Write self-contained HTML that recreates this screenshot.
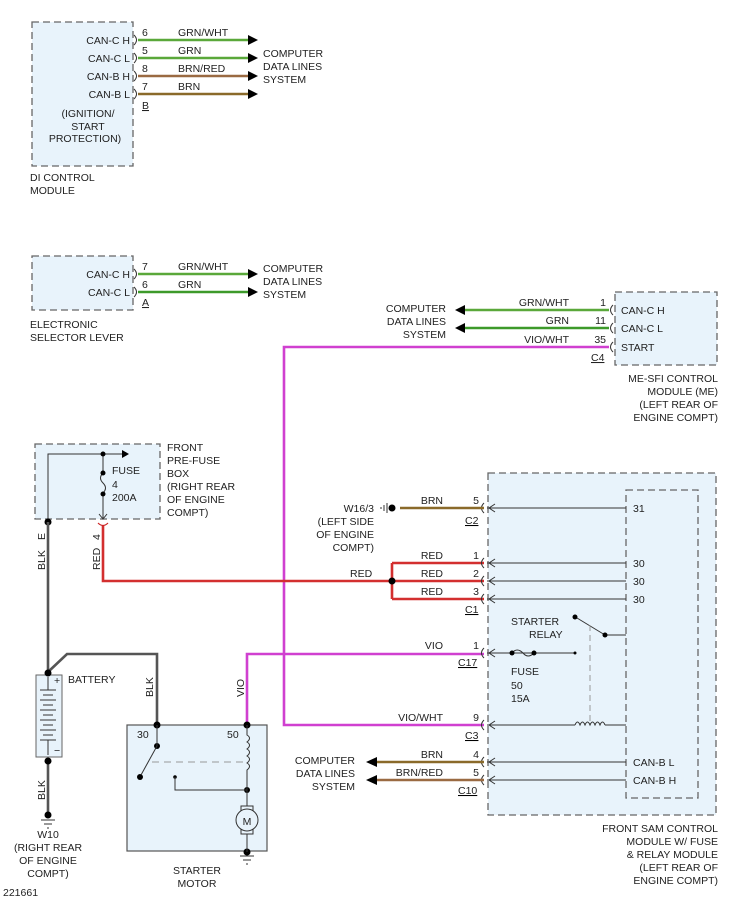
<!DOCTYPE html>
<html><head><meta charset="utf-8"><style>
html,body{margin:0;padding:0;background:#fff}
svg{display:block}
text{font-family:"Liberation Sans",sans-serif;font-size:10.5px;fill:#222}
.box{fill:#e8f3fb;stroke:#666;stroke-width:1.3;stroke-dasharray:7 4}
.w{fill:none;stroke-width:2.6}
.t{stroke:#333;stroke-width:1;fill:none}
</style></head><body>
<svg width="729" height="900" viewBox="0 0 729 900" xmlns="http://www.w3.org/2000/svg">
<defs>
<marker id="a" markerWidth="10" markerHeight="10" refX="9" refY="5" orient="auto" markerUnits="userSpaceOnUse"><path d="M0,0 L10,5 L0,10z" fill="#000"/></marker>
</defs>

<!-- DI control module -->
<rect class="box" x="32" y="22" width="101" height="144"/>
<g text-anchor="end">
<text x="130" y="44">CAN-C H</text><text x="130" y="62">CAN-C L</text>
<text x="130" y="80">CAN-B H</text><text x="130" y="98">CAN-B L</text>
</g>
<g text-anchor="middle"><text x="88" y="117">(IGNITION/</text><text x="88" y="130">START</text><text x="85" y="142">PROTECTION)</text></g>
<text x="30" y="181">DI CONTROL</text><text x="30" y="194">MODULE</text>
<g class="t"><path d="M134,35 q5,5 0,10"/><path d="M134,53 q5,5 0,10"/><path d="M134,71 q5,5 0,10"/><path d="M134,89 q5,5 0,10"/></g>
<line class="w" x1="138" y1="40" x2="255" y2="40" stroke="#5aa83a"/>
<line class="w" x1="138" y1="58" x2="255" y2="58" stroke="#5aa83a"/>
<line class="w" x1="138" y1="76" x2="255" y2="76" stroke="#9a6a42"/>
<line class="w" x1="138" y1="94" x2="255" y2="94" stroke="#8a6a2a"/>
<g fill="#000"><path d="M248,35 l10,5 l-10,5z"/><path d="M248,53 l10,5 l-10,5z"/><path d="M248,71 l10,5 l-10,5z"/><path d="M248,89 l10,5 l-10,5z"/></g>
<text x="142" y="36">6</text><text x="142" y="54">5</text><text x="142" y="72">8</text><text x="142" y="90">7</text>
<text x="142" y="109" text-decoration="underline">B</text>
<text x="178" y="36">GRN/WHT</text><text x="178" y="54">GRN</text><text x="178" y="72">BRN/RED</text><text x="178" y="90">BRN</text>
<text x="263" y="57">COMPUTER</text><text x="263" y="70">DATA LINES</text><text x="263" y="83">SYSTEM</text>

<!-- Selector lever -->
<rect class="box" x="32" y="256" width="101" height="54"/>
<g text-anchor="end"><text x="130" y="278">CAN-C H</text><text x="130" y="296">CAN-C L</text></g>
<text x="30" y="328">ELECTRONIC</text><text x="30" y="341">SELECTOR LEVER</text>
<g class="t"><path d="M134,269 q5,5 0,10"/><path d="M134,287 q5,5 0,10"/></g>
<line class="w" x1="138" y1="274" x2="255" y2="274" stroke="#5aa83a"/>
<line class="w" x1="138" y1="292" x2="255" y2="292" stroke="#3d9a2a"/>
<g fill="#000"><path d="M248,269 l10,5 l-10,5z"/><path d="M248,287 l10,5 l-10,5z"/></g>
<text x="142" y="270">7</text><text x="142" y="288">6</text><text x="142" y="306" text-decoration="underline">A</text>
<text x="178" y="270">GRN/WHT</text><text x="178" y="288">GRN</text>
<text x="263" y="272">COMPUTER</text><text x="263" y="285">DATA LINES</text><text x="263" y="298">SYSTEM</text>

<!-- ME-SFI -->
<rect class="box" x="615" y="292" width="102" height="73"/>
<text x="621" y="314">CAN-C H</text><text x="621" y="332">CAN-C L</text><text x="621" y="351">START</text>
<g class="t"><path d="M613,305 q-5,5 0,10"/><path d="M613,323 q-5,5 0,10"/><path d="M613,342 q-5,5 0,10"/></g>
<line class="w" x1="465" y1="310" x2="609" y2="310" stroke="#5aa83a"/>
<line class="w" x1="465" y1="328" x2="609" y2="328" stroke="#3d9a2a"/>
<g fill="#000"><path d="M465,305 l-10,5 l10,5z"/><path d="M465,323 l-10,5 l10,5z"/></g>
<g text-anchor="end"><text x="569" y="306">GRN/WHT</text><text x="569" y="324">GRN</text><text x="569" y="343">VIO/WHT</text>
<text x="606" y="306">1</text><text x="606" y="324">11</text><text x="606" y="343">35</text>
<text x="446" y="312">COMPUTER</text><text x="446" y="325">DATA LINES</text><text x="446" y="338">SYSTEM</text>
<text x="718" y="382">ME-SFI CONTROL</text><text x="718" y="395">MODULE (ME)</text><text x="718" y="408">(LEFT REAR OF</text><text x="718" y="421">ENGINE COMPT)</text></g>
<text x="591" y="361" text-decoration="underline">C4</text>
<path class="w" d="M609,347 H284 V725 H484" stroke="#d040d0"/>

<!-- Pre-fuse box -->
<rect class="box" x="35" y="444" width="125" height="75"/>
<path class="t" d="M48,521 V454 H124"/><path d="M122,450 l7,4 l-7,4z" fill="#000"/>
<path class="t" d="M103,454 V473 q-5,5 0,10 q5,5 0,10 V518"/>
<path class="t" d="M99,514 l4,5 l4,-5"/>
<g fill="#000"><circle cx="103" cy="454" r="2.5"/><circle cx="103" cy="473" r="2.5"/><circle cx="103" cy="494" r="2.5"/><circle cx="48" cy="522" r="3.5"/></g>
<text x="112" y="474">FUSE</text><text x="112" y="488">4</text><text x="112" y="501">200A</text>
<text x="167" y="451">FRONT</text><text x="167" y="464">PRE-FUSE</text><text x="167" y="477">BOX</text><text x="167" y="490">(RIGHT REAR</text><text x="167" y="503">OF ENGINE</text><text x="167" y="516">COMPT)</text>
<path d="M98,523 q5,5 10,0" stroke="#c22" fill="none" stroke-width="1.2"/>
<path class="w" d="M103,526 V581 H392" stroke="#d32f2f"/>
<path class="w" d="M392,581 H484 M392,563 V599 M392,563 H484 M392,599 H484" stroke="#d32f2f"/>
<circle cx="392" cy="581" r="3.5" fill="#000"/>
<g transform="rotate(-90)"><text x="-570" y="100">RED</text><text x="-540" y="100">4</text>
<text x="-570" y="45">BLK</text><text x="-540" y="45">E</text>
<text x="-800" y="45">BLK</text><text x="-697" y="153">BLK</text><text x="-697" y="244">VIO</text></g>
<text x="350" y="577">RED</text>

<!-- battery -->
<path class="w" d="M48,522 V672 M48,672 L67,654 H157 V724" stroke="#555"/>
<rect x="36" y="675" width="26" height="82" fill="#e8f3fb" stroke="#666"/>
<g class="t"><path d="M48,677 V690 M40,690 H56 M43,695 H53 M40,700 H56 M43,705 H53 M40,710 H56 M43,715 H53 M40,720 H56 M43,725 H53 M40,730 H56 M43,735 H53 M40,740 H56 M48,740 V755"/></g>
<text x="54" y="684" font-size="9">+</text><text x="54" y="754" font-size="9">−</text>
<text x="68" y="683">BATTERY</text>
<path class="w" d="M48,760 V812" stroke="#555"/>
<g fill="#000"><circle cx="48" cy="673" r="3.5"/><circle cx="48" cy="761" r="3.5"/><circle cx="48" cy="815" r="3.5"/></g>
<path class="t" d="M41,820 H55 M44,824 H52 M47,828 H49"/>
<g text-anchor="middle"><text x="48" y="838">W10</text><text x="48" y="851">(RIGHT REAR</text><text x="48" y="864">OF ENGINE</text><text x="48" y="877">COMPT)</text>
<text x="197" y="874">STARTER</text><text x="197" y="887">MOTOR</text></g>
<text x="3" y="896">221661</text>

<!-- starter -->
<rect x="127" y="725" width="140" height="126" fill="#e8f3fb" stroke="#555" stroke-width="1.2"/>
<path class="w" d="M247,725 V654 H484" stroke="#d040d0"/>
<g fill="#000"><circle cx="157" cy="725" r="3.5"/><circle cx="247" cy="725" r="3.5"/><circle cx="157" cy="746" r="3"/><circle cx="140" cy="777" r="3"/><circle cx="247" cy="790" r="3"/><circle cx="175" cy="777" r="1.8"/><circle cx="247" cy="852" r="3.5"/></g>
<path class="t" d="M157,725 V746 L141,775 M175,777 V790 H247 M247,725 V735 q5,3 0,7 q5,3 0,7 q5,3 0,7 q5,3 0,7 q5,3 0,7 V808 M247,832 V852"/>
<path d="M152,762 H245" stroke="#999" stroke-dasharray="7 5" fill="none"/>
<rect x="241" y="806" width="12" height="28" fill="#e8f3fb" stroke="#333"/>
<circle cx="247" cy="820" r="11" fill="#e8f3fb" stroke="#333"/>
<text x="247" y="825" text-anchor="middle" font-size="13">M</text>
<path class="t" d="M240,856 H254 M243,860 H251 M246,864 H248"/>
<text x="137" y="738">30</text><text x="227" y="738">50</text>
<text x="235" y="738" font-size="0"> </text>

<!-- SAM -->
<rect class="box" x="488" y="473" width="228" height="342"/>
<rect class="box" x="626" y="490" width="72" height="308"/>
<g class="t">
<path d="M484,503 q-5,5 0,10 M484,558 q-5,5 0,10 M484,576 q-5,5 0,10 M484,594 q-5,5 0,10 M484,648 q-5,5 0,10 M484,720 q-5,5 0,10 M484,757 q-5,5 0,10 M484,775 q-5,5 0,10"/>
<path d="M487,508 H626 M487,563 H626 M487,581 H626 M487,599 H626 M487,653 H575 M487,725 H575 M605,725 H626 M487,762 H626 M487,780 H626 M605,635 H626 M577,618 L605,635"/>
<path d="M495,504 l-6,4 l6,4 M495,559 l-6,4 l6,4 M495,577 l-6,4 l6,4 M495,595 l-6,4 l6,4 M495,649 l-6,4 l6,4 M495,721 l-6,4 l6,4 M495,758 l-6,4 l6,4 M495,776 l-6,4 l6,4"/>
<path d="M575,725 q2.5,-6 5,0 q2.5,-6 5,0 q2.5,-6 5,0 q2.5,-6 5,0 q2.5,-6 5,0 q2.5,-6 5,0"/>
<path d="M512,653 q5,-6 11,0 q5,6 11,0"/>
</g>
<path d="M590,625 V722" stroke="#999" stroke-dasharray="6 4" fill="none"/>
<g fill="#000"><circle cx="512" cy="653" r="2.5"/><circle cx="534" cy="653" r="2.5"/><circle cx="575" cy="653" r="1.5"/><circle cx="575" cy="617" r="2.5"/><circle cx="605" cy="635" r="2.5"/></g>
<text x="633" y="512">31</text><text x="633" y="567">30</text><text x="633" y="585">30</text><text x="633" y="603">30</text>
<text x="633" y="766">CAN-B L</text><text x="633" y="784">CAN-B H</text>
<text x="511" y="625">STARTER</text><text x="529" y="638">RELAY</text>
<text x="511" y="675">FUSE</text><text x="511" y="689">50</text><text x="511" y="702">15A</text>
<g text-anchor="end"><text x="718" y="832">FRONT SAM CONTROL</text><text x="718" y="845">MODULE W/ FUSE</text><text x="718" y="858">&amp; RELAY MODULE</text><text x="718" y="871">(LEFT REAR OF</text><text x="718" y="884">ENGINE COMPT)</text>
<text x="479" y="504">5</text><text x="479" y="559">1</text><text x="479" y="577">2</text><text x="479" y="595">3</text><text x="479" y="649">1</text><text x="479" y="721">9</text><text x="479" y="758">4</text><text x="479" y="776">5</text>
<text x="443" y="504">BRN</text><text x="443" y="559">RED</text><text x="443" y="577">RED</text><text x="443" y="595">RED</text><text x="443" y="649">VIO</text><text x="443" y="721">VIO/WHT</text><text x="443" y="758">BRN</text><text x="443" y="776">BRN/RED</text>
<text x="374" y="512">W16/3</text><text x="374" y="525">(LEFT SIDE</text><text x="374" y="538">OF ENGINE</text><text x="374" y="551">COMPT)</text>
<text x="355" y="764">COMPUTER</text><text x="355" y="777">DATA LINES</text><text x="355" y="790">SYSTEM</text></g>
<g text-decoration="underline"><text x="465" y="524">C2</text><text x="465" y="613">C1</text><text x="458" y="666">C17</text><text x="465" y="739">C3</text><text x="458" y="794">C10</text></g>
<line class="w" x1="400" y1="508" x2="484" y2="508" stroke="#8a6a2a"/>
<circle cx="392" cy="508" r="3.5" fill="#000"/>
<path class="t" d="M387,503 V513 M384,505 V511 M381,507 V509"/>
<line class="w" x1="376" y1="762" x2="484" y2="762" stroke="#8a6a2a"/>
<line class="w" x1="376" y1="780" x2="484" y2="780" stroke="#9a6a42"/>
<g fill="#000"><path d="M377,757 l-11,5 l11,5z"/><path d="M377,775 l-11,5 l11,5z"/></g>
</svg>
</body></html>
